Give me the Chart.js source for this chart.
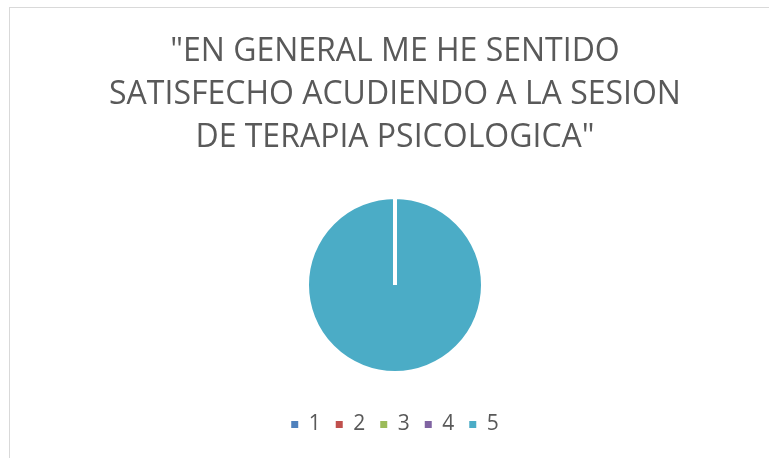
<!DOCTYPE html>
<html>
<head>
<meta charset="utf-8">
<script src="https://cdn.jsdelivr.net/npm/chart.js@4/dist/chart.umd.min.js"></script>
<style>
  html, body { margin: 0; padding: 0; background: #fff; overflow: hidden; }
  #frame { position: absolute; left: 9px; top: 7px; width: 800px; height: 500px; border: 1px solid #d9d9d9; }
  #pie { position: absolute; left: 9px; top: 7px; }
</style>
</head>
<body>
<div id="frame"></div>
<canvas id="pie" width="772" height="460"></canvas>
<script>
const titleLines = [
  "\"EN GENERAL ME HE SENTIDO",
  "SATISFECHO ACUDIENDO A LA SESION",
  "DE TERAPIA PSICOLOGICA\""
];
const categories = ["1", "2", "3", "4", "5"];
const responses = [0, 0, 0, 0, 30];
const sliceColors = ["#4f81bd", "#c0504d", "#9bbb59", "#8064a2", "#4bacc6"];

const chart = new Chart(document.getElementById("pie"), {
  type: "pie",
  data: {
    labels: categories,
    datasets: [{
      data: responses,
      backgroundColor: sliceColors,
      borderColor: "#ffffff",
      borderWidth: 4,
      radius: 88
    }]
  },
  options: {
    responsive: false,
    animation: false,
    layout: { padding: { top: 0, bottom: 22, left: 0, right: 0 } },
    plugins: {
      title: {
        display: true,
        text: titleLines,
        color: "#595959",
        font: { family: "'Open Sans', sans-serif", size: 32, weight: "normal", lineHeight: "43px" },
        padding: { top: 23, bottom: 12 }
      },
      legend: {
        position: "bottom",
        labels: {
          color: "#595959",
          boxWidth: 7,
          boxHeight: 7,
          padding: 15,
          font: { family: "'Open Sans', sans-serif", size: 21 },
          // plain squares, no white slice border round the legend boxes
          generateLabels(c) {
            const items = Chart.overrides.pie.plugins.legend.labels.generateLabels(c);
            items.forEach(it => { it.lineWidth = 0; it.strokeStyle = "rgba(0,0,0,0)"; });
            return items;
          }
        }
      },
      tooltip: { enabled: false }
    }
  }
});
</script>
</body>
</html>
